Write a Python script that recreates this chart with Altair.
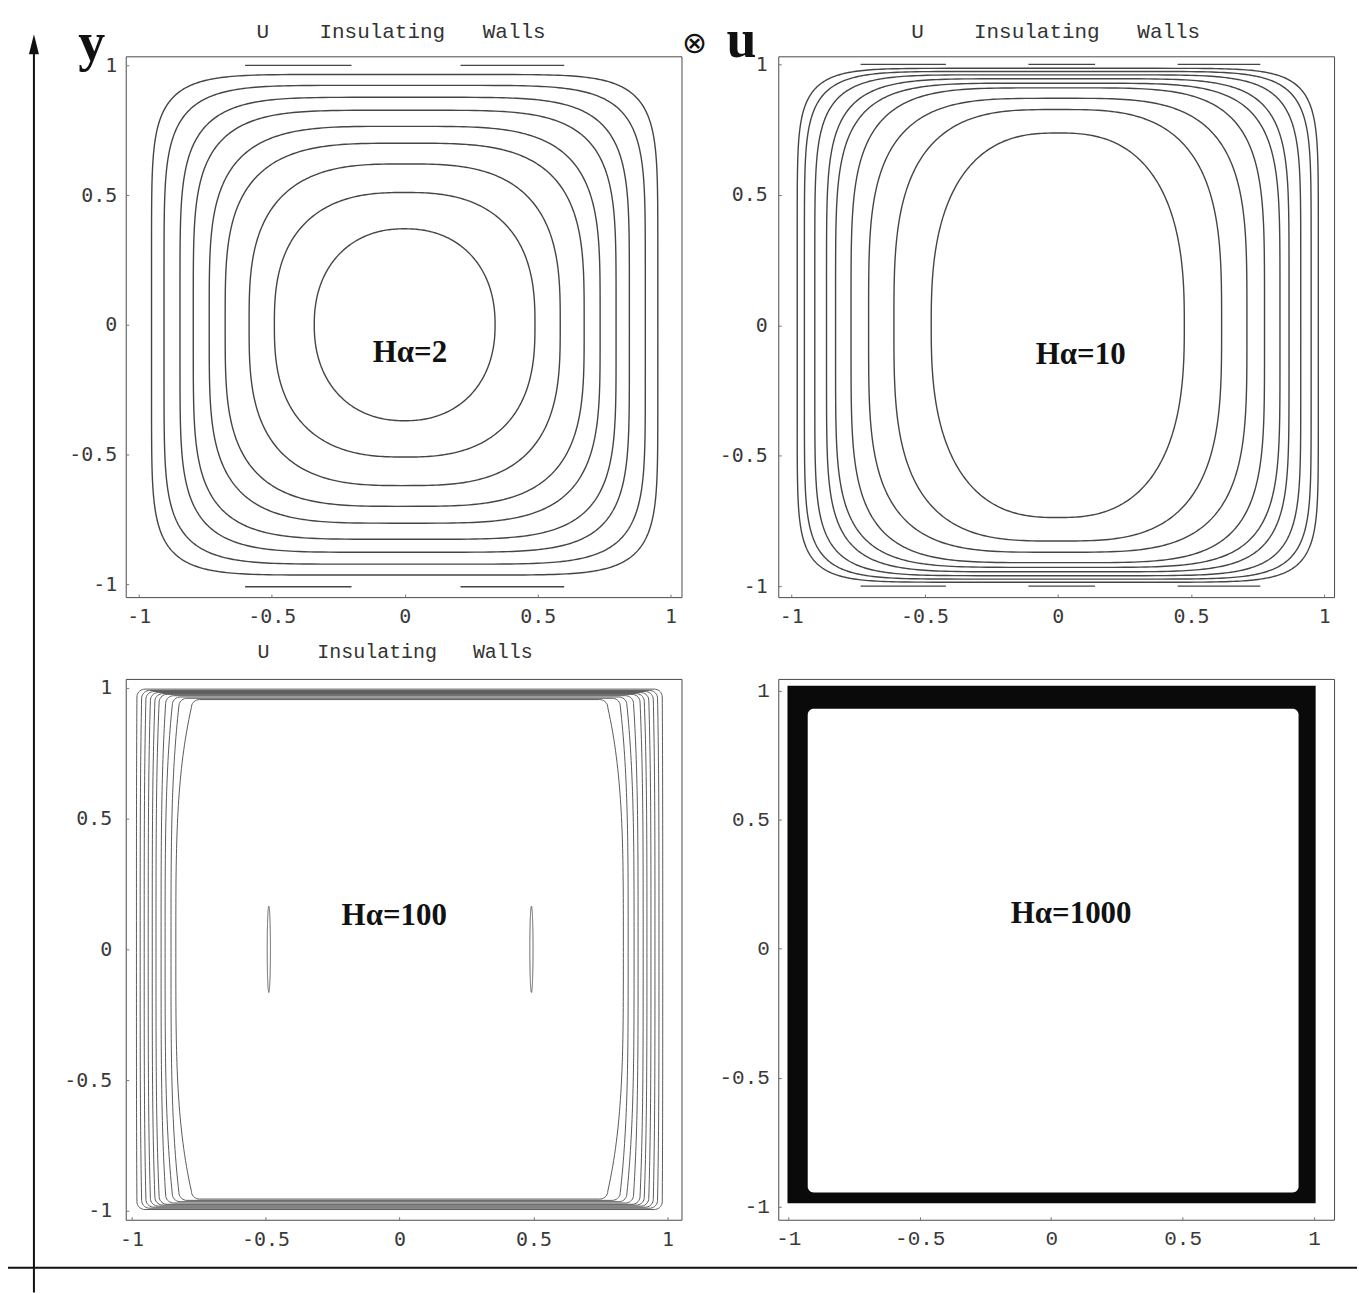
import numpy as np
import pandas as pd
import altair as alt

# ---------------- contour data ----------------
# Ha = 2: nested closed curves (half-width, half-height, squareness exponent)
ha2_half_width = [0.34, 0.49, 0.585, 0.675, 0.735, 0.795, 0.845, 0.905, 0.952]
ha2_half_height = [0.37, 0.51, 0.62, 0.70, 0.765, 0.827, 0.877, 0.923, 0.965]
ha2_exponent = [2.2, 2.6, 3.0, 3.5, 4.0, 4.7, 5.4, 6.3, 7.5]
ha2_wall_x1 = [-0.60, 0.21]
ha2_wall_x2 = [-0.20, 0.60]
ha2_wall_y = [1.0, -1.01]

# Ha = 10
ha10_half_width = [0.475, 0.615, 0.71, 0.776, 0.834, 0.868, 0.912, 0.951, 0.978]
ha10_half_height = [0.737, 0.827, 0.87, 0.91, 0.928, 0.945, 0.96, 0.973, 0.985]
ha10_exponent = [2.6, 3.2, 3.8, 4.5, 5.2, 6.0, 7.0, 8.0, 9.0]
ha10_wall_x1 = [-0.74, -0.11, 0.45]
ha10_wall_x2 = [-0.42, 0.14, 0.76]
ha10_wall_y = [1.0, -1.0]

# Ha = 100: loops hugging the walls (x at top/bottom corner, x at mid-height, wall-layer y)
ha100_corner_x = [0.77, 0.82, 0.845, 0.871, 0.896, 0.912, 0.929, 0.946, 0.962, 0.98]
ha100_mid_x = [0.835, 0.853, 0.875, 0.89, 0.909, 0.923, 0.938, 0.953, 0.968, 0.982]
ha100_wall_y = [0.955, 0.96, 0.965, 0.97, 0.975, 0.978, 0.982, 0.986, 0.99, 0.995]
ha100_vortex_x = [-0.488, 0.492]
ha100_vortex_half_height = [0.165, 0.165]

# Ha = 1000: contours merge into a solid band (x1, x2, y1, y2)
ha1000_outer = [-1.003, 1.006, -0.986, 1.02]
ha1000_inner = [-0.926, 0.941, -0.944, 0.93]

hartmann_labels = ["H\u03b1=2", "H\u03b1=10", "H\u03b1=100", "H\u03b1=1000"]
hartmann_label_x = [0.02, 0.086, -0.02, 0.076]
hartmann_label_y = [-0.11, -0.115, 0.126, 0.135]

tick_values = [-1, -0.5, 0, 0.5, 1]
# non-breaking spaces keep the wide gaps of the wall caption
wall_title = "U\u00a0\u00a0\u00a0\u00a0Insulating\u00a0\u00a0\u00a0Walls"

# ---------------- geometry helpers ----------------
W, H = 557, 542
MONO = "Liberation Mono"
SANS_MONO = "DejaVu Sans Mono"
SERIF = "Liberation Serif"


def superellipse(a, b, n, x0=0.0, num=400):
    t = np.linspace(0, 2 * np.pi, num)
    c, s = np.cos(t), np.sin(t)
    x = x0 + a * np.sign(c) * np.abs(c) ** (2.0 / n)
    y = b * np.sign(s) * np.abs(s) ** (2.0 / n)
    return x, y


def wall_loop(cx, mx, ty, r=0.03, steps=80, p=3.5):
    ys = np.linspace(ty - r, -(ty - r), steps)
    xs = mx + (cx - mx) * (np.abs(ys) / ty) ** p
    xe = xs[0]
    px, py = [], []
    # right side, downward
    px += list(xs); py += list(ys)
    # bottom-right corner
    a = np.linspace(0, -np.pi / 2, 10)
    px += list(xe - r + r * np.cos(a)); py += list(-(ty - r) + r * np.sin(a))
    # bottom edge to bottom-left corner
    a = np.linspace(-np.pi / 2, -np.pi, 10)
    px += list(-(xe - r) + r * np.cos(a)); py += list(-(ty - r) + r * np.sin(a))
    # left side, upward
    px += list(-xs[::-1]); py += list(ys[::-1])
    # top-left corner
    a = np.linspace(np.pi, np.pi / 2, 10)
    px += list(-(xe - r) + r * np.cos(a)); py += list((ty - r) + r * np.sin(a))
    # top edge to top-right corner
    a = np.linspace(np.pi / 2, 0, 10)
    px += list((xe - r) + r * np.cos(a)); py += list((ty - r) + r * np.sin(a))
    return np.array(px), np.array(py)


def loops_frame(loops):
    rows = []
    for cid, (xs, ys) in enumerate(loops):
        for k, (x, y) in enumerate(zip(xs, ys)):
            rows.append((float(x), float(y), cid, k))
    return pd.DataFrame(rows, columns=["x", "y", "cid", "k"])


def segments_frame(x1s, x2s, ys):
    rows = [(a, b, y) for y in ys for a, b in zip(x1s, x2s)]
    return pd.DataFrame(rows, columns=["x", "x2", "y"])


def axis(pad, font=SANS_MONO, size=20):
    return alt.Axis(
        values=tick_values,
        labelExpr="datum.value < 0 ? '-' + format(-datum.value, '') : format(datum.value, '')",
        offset=-3, tickSize=3, tickColor="#777", tickWidth=1,
        domain=False, grid=False, title=None, labelFlush=False,
        labelFont=font, labelFontSize=size, labelColor="#3a3a3a",
        labelPadding=pad,
    )


one_row = pd.DataFrame({"k": [0]})


def label_layer(i, sx, sy, ax_x, ax_y):
    df = pd.DataFrame({"x": [hartmann_label_x[i]], "y": [hartmann_label_y[i]],
                       "t": [hartmann_labels[i]]})
    return alt.Chart(df).mark_text(font=SERIF, fontWeight="bold", fontSize=31,
                                   color="#111", align="center", baseline="middle").encode(
        x=alt.X("x:Q", scale=sx, axis=ax_x), y=alt.Y("y:Q", scale=sy, axis=ax_y), text="t:N")


def title_layer(x, y, size=21):
    return alt.Chart(one_row).mark_text(text=wall_title, font=MONO, fontSize=size,
                                        color="#333", align="center",
                                        baseline="alphabetic").encode(
        x=alt.value(x), y=alt.value(y))


def contour_lines(df, sx, sy, ax_x, ax_y, color, width):
    return alt.Chart(df).mark_line(color=color, strokeWidth=width, clip=True).encode(
        x=alt.X("x:Q", scale=sx, axis=ax_x), y=alt.Y("y:Q", scale=sy, axis=ax_y),
        detail="cid:N", order="k:Q")


def wall_dashes(df, sx, sy, ax_x, ax_y, color):
    return alt.Chart(df).mark_rule(color=color, strokeWidth=1.4).encode(
        x=alt.X("x:Q", scale=sx, axis=ax_x), x2="x2:Q",
        y=alt.Y("y:Q", scale=sy, axis=ax_y))


# ---------------- panel Ha = 2 ----------------
sx1 = alt.Scale(domain=[-1.049, 1.041], nice=False, zero=False)
sy1 = alt.Scale(domain=[-1.05, 1.035], nice=False, zero=False)
ax1x, ax1y = axis(9), axis(9)
df1 = loops_frame([superellipse(a, b, n) for a, b, n in
                   zip(ha2_half_width, ha2_half_height, ha2_exponent)])
p1 = alt.layer(
    contour_lines(df1, sx1, sy1, ax1x, ax1y, "#454545", 1.4),
    wall_dashes(segments_frame(ha2_wall_x1, ha2_wall_x2, ha2_wall_y), sx1, sy1, ax1x, ax1y, "#454545"),
    label_layer(0, sx1, sy1, ax1x, ax1y),
    title_layer(276, -18),
    # page anchor (white) fixing the top-left corner of the canvas
    alt.Chart(one_row).mark_rule(color="white", strokeWidth=1).encode(
        x=alt.value(-124.5), x2=alt.value(-124), y=alt.value(-53.5)),
    alt.Chart(one_row).mark_text(text="y", font=SERIF, fontWeight="bold", fontSize=54,
                                 color="#111", align="center", baseline="alphabetic").encode(
        x=alt.value(-34), y=alt.value(4)),
).properties(width=W, height=H)

# ---------------- panel Ha = 10 ----------------
sx2 = alt.Scale(domain=[-1.049, 1.037], nice=False, zero=False)
sy2 = alt.Scale(domain=[-1.042, 1.031], nice=False, zero=False)
ax2x, ax2y = axis(9), axis(11)
df2 = loops_frame([superellipse(a, b, n) for a, b, n in
                   zip(ha10_half_width, ha10_half_height, ha10_exponent)])
p2 = alt.layer(
    contour_lines(df2, sx2, sy2, ax2x, ax2y, "#454545", 1.4),
    wall_dashes(segments_frame(ha10_wall_x1, ha10_wall_x2, ha10_wall_y), sx2, sy2, ax2x, ax2y, "#454545"),
    label_layer(1, sx2, sy2, ax2x, ax2y),
    title_layer(278, -18),
    alt.Chart(one_row).mark_text(text="\u2297", font="DejaVu Sans", fontSize=30,
                                 color="#111", align="center", baseline="middle").encode(
        x=alt.value(-84), y=alt.value(-12)),
    alt.Chart(one_row).mark_text(text="u", font=SERIF, fontWeight="bold", fontSize=54,
                                 color="#111", align="center", baseline="alphabetic").encode(
        x=alt.value(-37), y=alt.value(1)),
).properties(width=W, height=H)

# ---------------- panel Ha = 100 ----------------
sx3 = alt.Scale(domain=[-1.022, 1.052], nice=False, zero=False)
sy3 = alt.Scale(domain=[-1.034, 1.034], nice=False, zero=False)
ax3x, ax3y = axis(10), axis(14)
loops3 = [wall_loop(c, m, t) for c, m, t in zip(ha100_corner_x, ha100_mid_x, ha100_wall_y)]
loops3 += [superellipse(0.006, hh, 2.0, x0=vx) for vx, hh in
           zip(ha100_vortex_x, ha100_vortex_half_height)]
df3 = loops_frame(loops3)
p3 = alt.layer(
    contour_lines(df3, sx3, sy3, ax3x, ax3y, "#5a5a5a", 1.0),
    label_layer(2, sx3, sy3, ax3x, ax3y),
    title_layer(270, -21, 20),
    # page axes: vertical arrow and horizontal base line
    alt.Chart(one_row).mark_rule(color="#111", strokeWidth=2).encode(
        x=alt.value(-92), y=alt.value(-634), y2=alt.value(615)),
    alt.Chart(one_row).mark_point(shape="M0,-1L0.5,1L-0.5,1Z", filled=True, size=400,
                                  color="#111", opacity=1).encode(
        x=alt.value(-92), y=alt.value(-636)),
    alt.Chart(one_row).mark_rule(color="#111", strokeWidth=2).encode(
        x=alt.value(-118), x2=alt.value(1234), y=alt.value(590)),
).properties(width=W, height=H)

# ---------------- panel Ha = 1000 ----------------
sx4 = alt.Scale(domain=[-1.038, 1.076], nice=False, zero=False)
sy4 = alt.Scale(domain=[-1.05, 1.046], nice=False, zero=False)
ax4x, ax4y = axis(8, MONO, 21), axis(9, MONO, 21)
band = pd.DataFrame({"x1": [ha1000_outer[0], ha1000_inner[0]],
                     "x2": [ha1000_outer[1], ha1000_inner[1]],
                     "y1": [ha1000_outer[2], ha1000_inner[2]],
                     "y2": [ha1000_outer[3], ha1000_inner[3]],
                     "part": ["outer", "inner"]})
p4 = alt.layer(
    alt.Chart(band).transform_filter("datum.part == 'outer'").mark_rect(color="#0a0a0a").encode(
        x=alt.X("x1:Q", scale=sx4, axis=ax4x), x2="x2:Q",
        y=alt.Y("y1:Q", scale=sy4, axis=ax4y), y2="y2:Q"),
    alt.Chart(band).transform_filter("datum.part == 'inner'").mark_rect(
        color="white", cornerRadius=6).encode(
        x=alt.X("x1:Q", scale=sx4, axis=ax4x), x2="x2:Q",
        y=alt.Y("y1:Q", scale=sy4, axis=ax4y), y2="y2:Q"),
    label_layer(3, sx4, sy4, ax4x, ax4y),
).properties(width=W, height=H)

chart = alt.concat(
    p1, p2, p3, p4, columns=2,
    spacing={"row": 82, "column": 97}, bounds="flush",
).properties(padding=0).configure_view(stroke="#4a4a4a", strokeWidth=1)

chart.save("out.html", embed_options={"renderer": "svg", "actions": False})
